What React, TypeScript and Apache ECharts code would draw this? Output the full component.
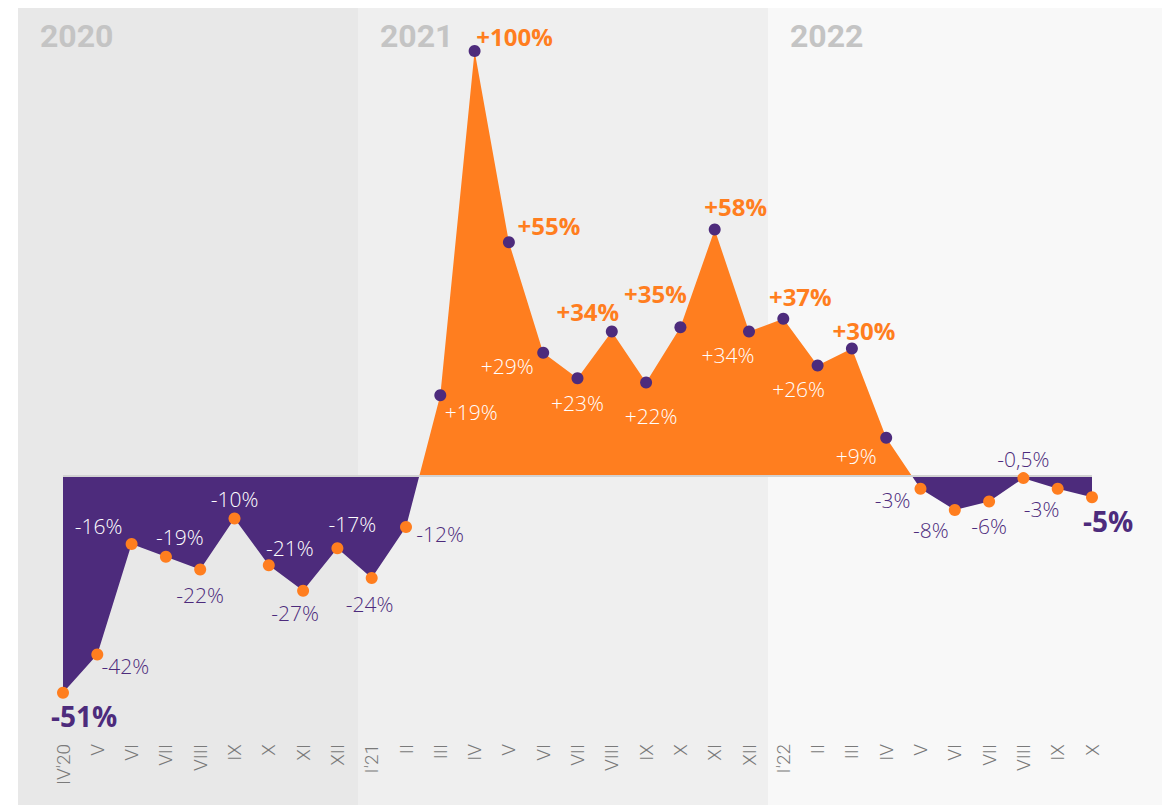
import React, { useEffect, useRef } from "react";
import * as echarts from "echarts";

const months = [
  "IV'20", "V", "VI", "VII", "VIII", "IX", "X", "XI", "XII",
  "I'21", "II", "III", "IV", "V", "VI", "VII", "VIII", "IX", "X", "XI", "XII",
  "I'22", "II", "III", "IV", "V", "VI", "VII", "VIII", "IX", "X",
];

const values = [
  -51, -42, -16, -19, -22, -10, -21, -27, -17,
  -24, -12, 19, 100, 55, 29, 23, 34, 22, 35, 58, 34,
  37, 26, 30, 9, -3, -8, -6, -0.5, -3, -5,
];

const valueLabels = [
  "-51%", "-42%", "-16%", "-19%", "-22%", "-10%", "-21%", "-27%", "-17%",
  "-24%", "-12%", "+19%", "+100%", "+55%", "+29%", "+23%", "+34%", "+22%", "+35%", "+58%", "+34%",
  "+37%", "+26%", "+30%", "+9%", "-3%", "-8%", "-6%", "-0,5%", "-3%", "-5%",
];

// label kind: in = white inside area, out = purple outside, big = bold highlight
const labelKinds = [
  "big", "out", "in", "in", "out", "in", "in", "out", "in",
  "out", "out", "in", "big", "big", "in", "in", "big", "in", "big", "big", "in",
  "big", "in", "big", "in", "out", "out", "out", "out", "out", "big",
];

const years = ["2020", "2021", "2022"];

// layout (label offsets from the marker, px)
const labelOffsets: [number, number][] = [
  [21, 23], [28, 11], [-33, -18], [14, -20], [0, 25], [0, -20], [21, -17], [-8, 22], [15, -24],
  [-2, 26], [34, 7], [31, 17], [40, -15], [40, -17], [-36, 13], [0, 25], [-24, -20], [5, 33], [-25, -34], [21, -23], [-21, 23],
  [17, -22], [-19, 23], [12, -18], [-30, 18], [-28, 11], [-24, 20], [0, 24], [0, -19], [-16, 20], [16, 24],
];

const ORANGE = "#FF7E1F";
const PURPLE = "#4D2B7C";

export default function App() {
  const ref = useRef<HTMLDivElement>(null);

  useEffect(() => {
    if (!ref.current) return;
    const chart = echarts.init(ref.current, null, { renderer: "svg" });

    const scatterData = values.map((v, i) => {
      const kind = labelKinds[i];
      const neg = v < 0;
      let label: any;
      if (kind === "big") {
        label = {
          color: neg ? PURPLE : ORANGE,
          fontSize: neg ? 28 : 24,
          fontWeight: 700,
          fontFamily: "Open Sans",
        };
      } else {
        label = {
          color: kind === "in" ? "#ffffff" : PURPLE,
          fontSize: 21,
          fontWeight: 300,
          fontFamily: "Open Sans",
        };
      }
      return {
        value: v,
        itemStyle: { color: neg ? ORANGE : PURPLE, opacity: 1 },
        label: {
          show: true,
          formatter: valueLabels[i],
          position: "inside",
          offset: labelOffsets[i],
          ...label,
        },
      };
    });

    const vMax = Math.max(...values);
    const vMin = Math.min(...values);
    const zeroStop = vMax / (vMax - vMin);

    const bands = [
      { x: 18, w: 340, fill: "#e8e8e8" },
      { x: 358, w: 410, fill: "#efefef" },
      { x: 768, w: 394, fill: "#f8f8f8" },
    ];

    chart.setOption({
      animation: false,
      graphic: [
        ...bands.map((b) => ({
          type: "rect",
          z: 0,
          silent: true,
          shape: { x: b.x, y: 8, width: b.w, height: 805 - 8 },
          style: { fill: b.fill },
        })),
        ...years.map((y, i) => ({
          type: "text",
          z: 1,
          left: bands[i].x + 22,
          top: 20,
          style: {
            text: y,
            fill: "#c4c4c4",
            fontSize: 32,
            fontWeight: 700,
            fontFamily: "Roboto",
          },
        })),
      ],
      grid: { left: 63, right: 81, top: 51, bottom: 74, containLabel: false },
      xAxis: {
        type: "category",
        data: months,
        boundaryGap: false,
        axisLine: { show: false, onZero: false },
        axisTick: { show: false },
        splitLine: { show: false },
        axisLabel: {
          rotate: 90,
          margin: 13,
          color: "#7a7a7a",
          fontSize: 19,
          fontWeight: 300,
          fontFamily: "Roboto",
          interval: 0,
        },
      },
      yAxis: {
        type: "value",
        min: -60,
        max: 100,
        show: false,
        splitLine: { show: false },
      },
      series: [
        {
          type: "line",
          data: values,
          showSymbol: false,
          symbol: "none",
          lineStyle: { width: 0, opacity: 0 },
          areaStyle: {
            opacity: 1,
            color: new echarts.graphic.LinearGradient(0, 0, 0, 1, [
              { offset: 0, color: ORANGE },
              { offset: zeroStop, color: ORANGE },
              { offset: zeroStop, color: PURPLE },
              { offset: 1, color: PURPLE },
            ]),
          },
          silent: true,
          z: 2,
          markLine: {
            silent: true,
            symbol: "none",
            label: { show: false },
            lineStyle: { color: "#d2d2d2", width: 2, type: "solid" },
            data: [{ yAxis: 0 }],
          },
        },
        {
          type: "scatter",
          data: scatterData,
          symbolSize: 12,
          itemStyle: { opacity: 1 },
          z: 5,
          silent: true,
        },
      ],
    });

    return () => chart.dispose();
  }, []);

  return (
    <div
      ref={ref}
      style={{ position: "fixed", left: 0, top: 0, width: 1173, height: 805, background: "#ffffff" }}
    />
  );
}
